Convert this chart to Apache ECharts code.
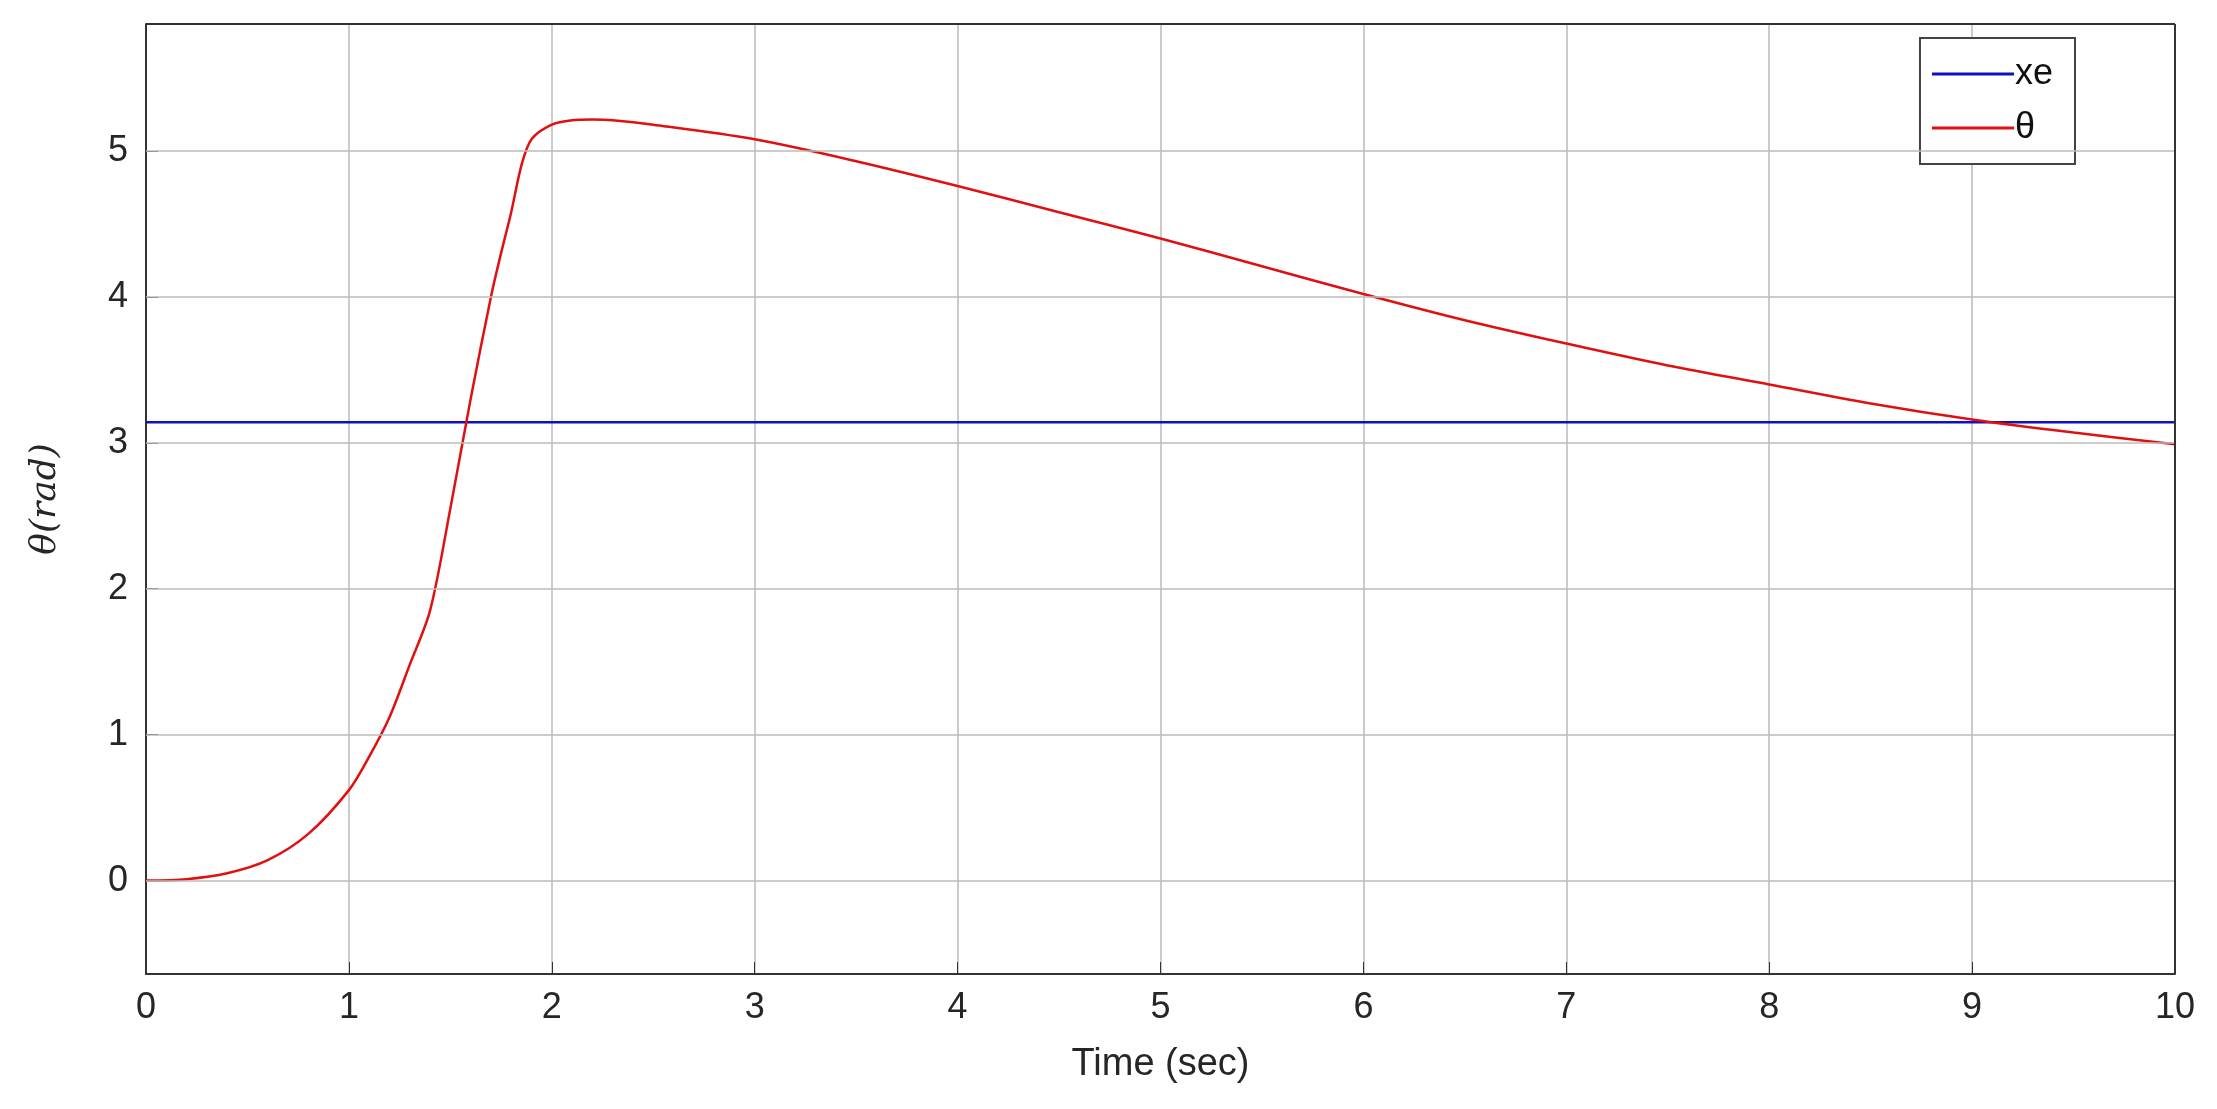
<!DOCTYPE html>
<html><head><meta charset="utf-8">
<script src="https://cdn.jsdelivr.net/npm/echarts@6/dist/echarts.min.js"></script>
<style>html,body{margin:0;padding:0;background:#fff}#c{width:2217px;height:1109px}</style>
</head><body><div id="c"></div>
<script>
// time (sec) and theta (rad)
var timeVals = [0, 0.2, 0.4, 0.6, 0.8, 1.0, 1.1, 1.2, 1.3, 1.4, 1.5, 1.6, 1.7, 1.75, 1.8, 1.85, 1.9, 2.0, 2.1, 2.2, 2.3, 2.5, 3, 3.5, 4, 4.5, 5, 5.5, 6, 6.5, 7, 7.5, 8, 8.5, 9, 9.5, 10];
var thetaVals = [0, 0.01, 0.05, 0.14, 0.32, 0.62, 0.85, 1.12, 1.48, 1.85, 2.55, 3.3, 4.0, 4.3, 4.58, 4.9, 5.08, 5.18, 5.21, 5.215, 5.21, 5.18, 5.08, 4.93, 4.76, 4.58, 4.4, 4.21, 4.02, 3.84, 3.68, 3.53, 3.4, 3.27, 3.16, 3.07, 2.99];
var xeValue = 3.1416;

var chart = echarts.init(document.getElementById('c'), null, {renderer: 'canvas'});
var axisFont = {fontFamily: 'Liberation Sans', fontSize: 36, color: '#262626'};
var frame = {color: '#333', width: 2};
chart.setOption({
  animation: false,
  grid: {left: 146, right: 42, top: 24, bottom: 135},
  legend: {
    right: 142, top: 38, orient: 'vertical', itemGap: 18,
    itemWidth: 82, itemHeight: 3, icon: 'rect',
    backgroundColor: '#fff', borderColor: '#444', borderWidth: 2, padding: [18, 22, 18, 12],
    textStyle: {fontFamily: 'Liberation Sans', fontSize: 36, color: '#111', padding: [0, 0, 0, -4]},
    data: ['xe', 'θ']
  },
  xAxis: {
    type: 'value', min: 0, max: 10, interval: 1,
    name: 'Time (sec)', nameLocation: 'middle', nameGap: 72,
    nameTextStyle: {fontFamily: 'Liberation Sans', fontSize: 38, color: '#262626'},
    axisLine: {show: true, onZero: false, lineStyle: frame},
    axisTick: {show: true, inside: true, length: 12, lineStyle: {color: '#333'}},
    axisLabel: Object.assign({margin: 16}, axisFont),
    splitLine: {show: true, lineStyle: {color: '#bbb', width: 1.5}}
  },
  yAxis: {
    type: 'value', min: -0.64, max: 5.87,
    name: 'θ(rad)', nameLocation: 'middle', nameGap: 82, nameRotate: 90,
    nameTextStyle: {fontFamily: 'DejaVu Serif', fontStyle: 'italic', fontSize: 36, color: '#262626'},
    axisLine: {show: true, onZero: false, lineStyle: frame},
    axisLabel: Object.assign({margin: 18, customValues: [0, 1, 2, 3, 4, 5]}, axisFont),
    axisTick: {show: true, inside: true, length: 12, customValues: [0, 1, 2, 3, 4, 5], lineStyle: {color: '#333'}},
    splitLine: {show: false}
  },
  series: [
    {
      name: 'xe', type: 'line', symbol: 'none',
      lineStyle: {color: '#1010c0', width: 2.5}, itemStyle: {color: '#1010c0'},
      data: [[0, xeValue], [10, xeValue]]
    },
    {
      name: 'θ', type: 'line', symbol: 'none', smooth: 0.3,
      lineStyle: {color: '#e01010', width: 2.5}, itemStyle: {color: '#e01010'},
      data: timeVals.map(function (t, i) { return [t, thetaVals[i]]; })
    },
    {
      // horizontal grid lines at integer y values and top/right frame
      type: 'line', symbol: 'none', silent: true, data: [],
      markLine: {
        silent: true, symbol: 'none', label: {show: false},
        lineStyle: {color: '#bbb', width: 1.5, type: 'solid'},
        data: [{yAxis: 0}, {yAxis: 1}, {yAxis: 2}, {yAxis: 3}, {yAxis: 4}, {yAxis: 5},
               {yAxis: 5.87, lineStyle: frame},
               {xAxis: 10, lineStyle: frame}]
      }
    }
  ]
});
</script></body></html>
